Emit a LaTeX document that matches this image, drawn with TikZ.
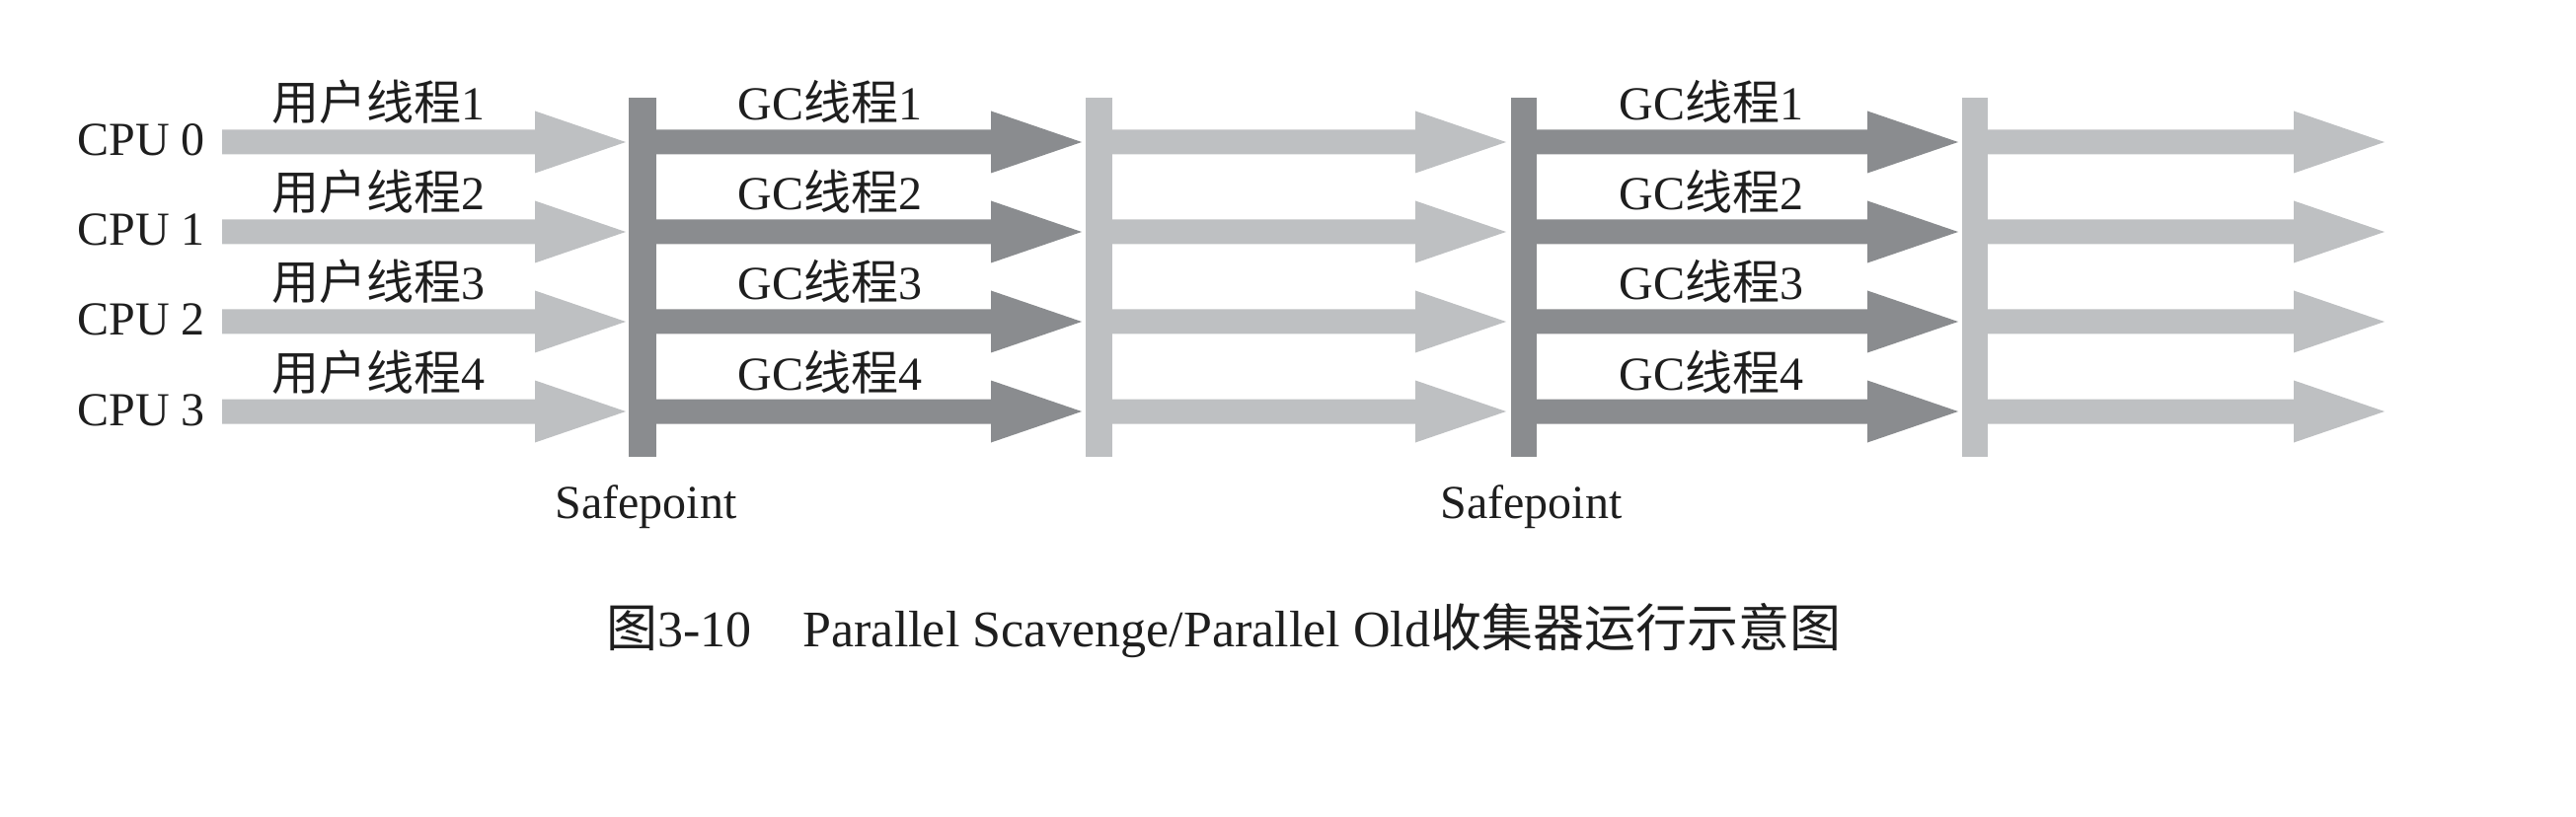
\documentclass[tikz,border=0pt]{standalone}
\usepackage{fontspec}
\setmainfont{Liberation Serif}
\newfontfamily\cjk{Noto Sans CJK SC}
\definecolor{darkg}{RGB}{138,140,143}
\definecolor{lightg}{RGB}{190,192,194}
\definecolor{txt}{RGB}{30,30,30}
\newcommand\harrow[4]{%
  \fill[#4] (#1,#3-12.5) -- (#2-92,#3-12.5) -- (#2-92,#3-31.5) -- (#2,#3)
    -- (#2-92,#3+31.5) -- (#2-92,#3+12.5) -- (#1,#3+12.5) -- cycle;}
\begin{document}
\begin{tikzpicture}[x=0.5pt,y=-0.5pt,
  lbl/.style={inner sep=0pt, text=txt, font=\fontsize{24}{28}\selectfont},
  captext/.style={inner sep=0pt, text=txt, font=\fontsize{26}{30}\selectfont}]
\useasboundingbox (0,0) rectangle (2610,828);
\foreach \r/\y in {0/144,1/235,2/326,3/417}{
  \pgfmathtruncatemacro\n{\r+1}
  \harrow{225}{634}{\y}{lightg}
  \harrow{665}{1096}{\y}{darkg}
  \harrow{1127}{1526}{\y}{lightg}
  \harrow{1557}{1984}{\y}{darkg}
  \harrow{2014}{2416}{\y}{lightg}
  \node[lbl, anchor=base west] (cpu\r) at (78,\y+14) {CPU \r};
  \node[lbl, anchor=base west] (ut\r) at (275,\y-22) {{\cjk 用户线程}\n};
  \node[lbl, anchor=base west] (gca\r) at (747,\y-22) {GC{\cjk 线程}\n};
  \node[lbl, anchor=base west] (gcb\r) at (1640,\y-22) {GC{\cjk 线程}\n};
}
\fill[darkg] (637,99) rectangle (665,463);
\fill[lightg] (1100,99) rectangle (1127,463);
\fill[darkg] (1531,99) rectangle (1557,463);
\fill[lightg] (1988,99) rectangle (2014,463);
\node[lbl, anchor=base west] (sp1) at (562,525) {Safepoint};
\node[lbl, anchor=base west] (sp2) at (1459,525) {Safepoint};
\node[captext, anchor=base west] (caption) at (614,655) {{\cjk 图}3-10\quad Parallel Scavenge/Parallel Old{\cjk 收集器运行示意图}};
\end{tikzpicture}
\end{document}
